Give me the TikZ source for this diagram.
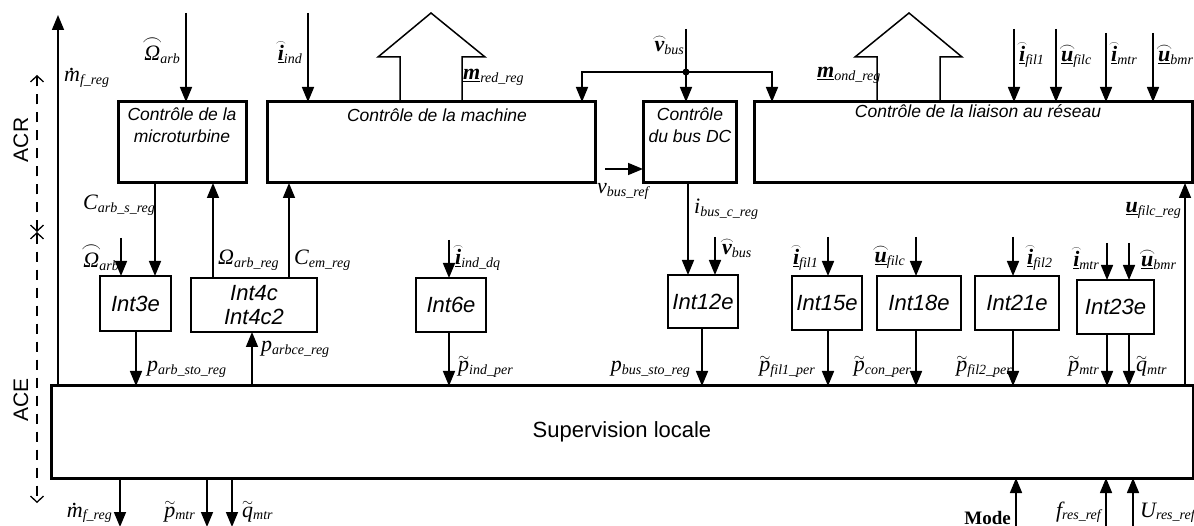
\documentclass[tikz,border=0pt]{standalone}
\usepackage{fontspec}
\setmainfont{Liberation Sans}
\newfontfamily\tnr{Liberation Serif}
\usetikzlibrary{arrows.meta,calc}
\newcommand\Lm[2]{{\tnr\itshape\fontsize{22}{24}\selectfont #1\raisebox{-0.12em}{\fontsize{14}{16}\selectfont #2}}}
\newcommand\arcc[1]{\leavevmode\setbox0\hbox{#1}\rlap{\hbox to\wd0{\hss\smash{\raisebox{\dimexpr\ht0+0.5pt\relax}{\resizebox{\dimexpr\wd0+4pt\relax}{!}{$\frown$}}}\hss}}\box0}
\newcommand\tld[1]{\leavevmode\setbox0\hbox{#1}\rlap{\hbox to\wd0{\hss\smash{\raisebox{\dimexpr\ht0+0.5pt\relax}{\resizebox{\wd0}{!}{$\sim$}}}\hss}}\box0}
\newcommand\dotm{\leavevmode\setbox0\hbox{m}\rlap{\hbox to\wd0{\hss\smash{\raisebox{\dimexpr\ht0+1pt\relax}{.}}\hss}}\box0}
\newcommand\ubf[1]{\underline{\bfseries #1}}
\begin{document}
\begin{tikzpicture}[x=1pt,y=-1pt,
  arr/.style={line width=1.6pt,-{Triangle[length=15pt,width=12pt]}},
  ctrl/.style={draw,line width=3pt,inner sep=0pt,outer sep=0pt,anchor=north west},
  intb/.style={draw,line width=1.8pt,inner sep=0pt,outer sep=0pt,anchor=north west,font=\fontsize{22}{24}\selectfont\itshape},
  ctxt/.style={inner sep=0pt,align=center,font=\fontsize{17.5}{22}\selectfont\itshape},
  lab/.style={inner sep=0pt},
  hollow/.style={line width=1.5pt,line join=miter},
  zone/.style={line width=1.3pt,dash pattern=on 10pt off 8pt,{Straight Barb[length=6pt,width=13pt]}-{Straight Barb[length=6pt,width=13pt]}}
]
\useasboundingbox (0,0) rectangle (1194,526);

% boxes
\node[ctrl,minimum width=128pt,minimum height=81pt] (mt) at (118,102) {};
\node[ctrl,minimum width=328pt,minimum height=81pt] (mach) at (267,102) {};
\node[ctrl,minimum width=93pt,minimum height=81pt] (bus) at (643,102) {};
\node[ctrl,minimum width=438pt,minimum height=81pt] (lia) at (754,102) {};
\node[ctrl,minimum width=1142pt,minimum height=92pt] (sup) at (51,386) {};

\node[ctxt,anchor=north] (tmt) at (182,108) {Contrôle de la\\microturbine};
\node[ctxt,anchor=base] (tmach) at (437,122) {Contrôle de la machine};
\node[ctxt,anchor=north] (tbus) at (690,108) {Contrôle\\du bus DC};
\node[ctxt,anchor=base] (tlia) at (978,118) {Contrôle de la liaison au réseau};
\node[inner sep=0pt,font=\fontsize{22}{24}\selectfont] (tsup) at (622,432) {Supervision locale};

\node[intb,minimum width=71pt,minimum height=55pt] (i3) at (100,276) {Int3e};
\node[intb,minimum width=126pt,minimum height=54pt,align=center] (i4) at (191,278) {Int4c\\Int4c2};
\node[intb,minimum width=70pt,minimum height=54pt] (i6) at (416,278) {Int6e};
\node[intb,minimum width=70pt,minimum height=53pt] (i12) at (668,275) {Int12e};
\node[intb,minimum width=70pt,minimum height=54pt] (i15) at (792,276) {Int15e};
\node[intb,minimum width=84pt,minimum height=54pt] (i18) at (877,276) {Int18e};
\node[intb,minimum width=84pt,minimum height=54pt] (i21) at (975,276) {Int21e};
\node[intb,minimum width=77pt,minimum height=54pt] (i23) at (1077,280) {Int23e};

% zone markers
\node[rotate=90,inner sep=0pt,font=\fontsize{21}{24}\selectfont] (acr) at (21,140) {ACR};
\node[rotate=90,inner sep=0pt,font=\fontsize{21}{24}\selectfont] (ace) at (21,400) {ACE};
\coordinate (z1) at (37,75);
\coordinate (z2) at (37,232);
\coordinate (z3) at (37,503);
\draw[zone] (z2) -- (z1);
\draw[zone] (z2) -- (z3);

% hollow arrows
\draw[hollow] (400,102) -- (400,57) -- (378,57) -- (431,13) -- (485,57) -- (462,57) -- (462,102);
\draw[hollow] (877,102) -- (877,57) -- (855,57) -- (909,13) -- (962,57) -- (940,57) -- (940,102);

% top inputs
\coordinate (pO) at (186,13);
\draw[arr] (pO) -- (pO |- mt.north);
\coordinate (pI) at (308,13);
\draw[arr] (pI) -- (pI |- mach.north);
\coordinate (pV) at (686,29);
\coordinate (vd) at (686,72);
\coordinate (vL) at (582,72);
\coordinate (vR) at (772,72);
\draw[line width=1.6pt] (pV) -- (vd);
\draw[arr] (vd) -- (vd |- bus.north);
\draw[arr] (vd) -- (vL) -- (vL |- mach.north);
\draw[arr] (vd) -- (vR) -- (vR |- lia.north);
\fill (vd) circle (3.5pt);
\coordinate (pf1) at (1014,29);
\draw[arr] (pf1) -- (pf1 |- lia.north);
\coordinate (pfc) at (1056,29);
\draw[arr] (pfc) -- (pfc |- lia.north);
\coordinate (pmt) at (1106,33);
\draw[arr] (pmt) -- (pmt |- lia.north);
\coordinate (pbm) at (1153,33);
\draw[arr] (pbm) -- (pbm |- lia.north);
\coordinate (mf) at (58,15);
\draw[arr] (sup.north -| mf) -- (mf);
\coordinate (vr) at (605,169);
\draw[arr] (vr) -- (vr -| bus.west);

% middle links
\coordinate (xC) at (155,0);
\draw[arr] (mt.south -| xC) -- (i3.north -| xC);
\coordinate (xO) at (213,0);
\draw[arr] (i4.north -| xO) -- (mt.south -| xO);
\coordinate (xE) at (289,0);
\draw[arr] (i4.north -| xE) -- (mach.south -| xE);
\coordinate (xB) at (688,0);
\draw[arr] (bus.south -| xB) -- (i12.north -| xB);
\coordinate (xU) at (1185,0);
\draw[arr] (sup.north -| xU) -- (lia.south -| xU);

% int inputs
\coordinate (q3) at (121,238);
\draw[arr] (q3) -- (q3 |- i3.north);
\coordinate (q6) at (449,240);
\draw[arr] (q6) -- (q6 |- i6.north);
\coordinate (q12) at (715,237);
\draw[arr] (q12) -- (q12 |- i12.north);
\coordinate (q15) at (828,237);
\draw[arr] (q15) -- (q15 |- i15.north);
\coordinate (q18) at (916,237);
\draw[arr] (q18) -- (q18 |- i18.north);
\coordinate (q21) at (1013,237);
\draw[arr] (q21) -- (q21 |- i21.north);
\coordinate (q23a) at (1107,243);
\draw[arr] (q23a) -- (q23a |- i23.north);
\coordinate (q23b) at (1129,243);
\draw[arr] (q23b) -- (q23b |- i23.north);

% int outputs
\coordinate (o3) at (136,0);
\draw[arr] (i3.south -| o3) -- (sup.north -| o3);
\coordinate (o4) at (252,0);
\draw[arr] (sup.north -| o4) -- (i4.south -| o4);
\coordinate (o6) at (449,0);
\draw[arr] (i6.south -| o6) -- (sup.north -| o6);
\coordinate (o12) at (702,0);
\draw[arr] (i12.south -| o12) -- (sup.north -| o12);
\coordinate (o15) at (828,0);
\draw[arr] (i15.south -| o15) -- (sup.north -| o15);
\coordinate (o18) at (916,0);
\draw[arr] (i18.south -| o18) -- (sup.north -| o18);
\coordinate (o21) at (1013,0);
\draw[arr] (i21.south -| o21) -- (sup.north -| o21);
\coordinate (o23a) at (1107,0);
\draw[arr] (i23.south -| o23a) -- (sup.north -| o23a);
\coordinate (o23b) at (1129,0);
\draw[arr] (i23.south -| o23b) -- (sup.north -| o23b);

% bottom
\coordinate (b1) at (120,527);
\draw[arr] (sup.south -| b1) -- (b1);
\coordinate (b2) at (207,527);
\draw[arr] (sup.south -| b2) -- (b2);
\coordinate (b3) at (232,527);
\draw[arr] (sup.south -| b3) -- (b3);
\coordinate (b4) at (1016,527);
\draw[arr] (b4) -- (b4 |- sup.south);
\coordinate (b5) at (1106,527);
\draw[arr] (b5) -- (b5 |- sup.south);
\coordinate (b6) at (1133,527);
\draw[arr] (b6) -- (b6 |- sup.south);

% labels top
\node[lab,anchor=base west] (l1) at (64,82) {\Lm{\dotm}{f\_reg}};
\node[lab,anchor=base east] (l2) at (180,61) {\Lm{\arcc{Ω}}{arb}};
\node[lab,anchor=base east] (l3) at (302,61) {\Lm{\arcc{\ubf{i}}}{ind}};
\node[lab,anchor=base west] (l4) at (463,80) {\Lm{\ubf{m}}{red\_reg}};
\node[lab,anchor=base east] (l5) at (684,52) {\Lm{\arcc{\bfseries v}}{bus}};
\node[lab,anchor=base west] (l6) at (817,78) {\Lm{\ubf{m}}{ond\_reg}};
\node[lab,anchor=base west] (l7) at (1019,62) {\Lm{\arcc{\ubf{i}}}{fil1}};
\node[lab,anchor=base west] (l8) at (1061,62) {\Lm{\arcc{\ubf{u}}}{filc}};
\node[lab,anchor=base west] (l9) at (1111,62) {\Lm{\arcc{\ubf{i}}}{mtr}};
\node[lab,anchor=base west] (l10) at (1158,62) {\Lm{\arcc{\ubf{u}}}{bmr}};
% labels middle
\node[lab,anchor=base west] (l11) at (83,210) {\Lm{C}{arb\_s\_reg}};
\node[lab,anchor=base west] (l12) at (597,194) {\Lm{v}{bus\_ref}};
\node[lab,anchor=base west] (l13) at (694,214) {\Lm{i}{bus\_c\_reg}};
\node[lab,anchor=base east] (l14) at (1181,213) {\Lm{\ubf{u}}{filc\_reg}};
\node[lab,anchor=base east] (l15) at (119,268) {\Lm{\arcc{Ω}}{arb}};
\node[lab,anchor=base west] (l16) at (218,265) {\Lm{Ω}{arb\_reg}};
\node[lab,anchor=base west] (l17) at (294,265) {\Lm{C}{em\_reg}};
\node[lab,anchor=base west] (l18) at (455,265) {\Lm{\arcc{\ubf{i}}}{ind\_dq}};
\node[lab,anchor=base west] (l19) at (722,255) {\Lm{\arcc{\bfseries v}}{bus}};
\node[lab,anchor=base east] (l20) at (818,265) {\Lm{\arcc{\ubf{i}}}{fil1}};
\node[lab,anchor=base east] (l21) at (905,263) {\Lm{\arcc{\ubf{u}}}{filc}};
\node[lab,anchor=base west] (l22) at (1027,265) {\Lm{\arcc{\ubf{i}}}{fil2}};
\node[lab,anchor=base east] (l23) at (1099,267) {\Lm{\arcc{\ubf{i}}}{mtr}};
\node[lab,anchor=base west] (l24) at (1141,267) {\Lm{\arcc{\ubf{u}}}{bmr}};
% labels lower
\node[lab,anchor=base west] (l25) at (147,372) {\Lm{p}{arb\_sto\_reg}};
\node[lab,anchor=base west] (l26) at (261,352) {\Lm{p}{arbce\_reg}};
\node[lab,anchor=base west] (l27) at (458,372) {\Lm{\tld{p}}{ind\_per}};
\node[lab,anchor=base east] (l28) at (690,372) {\Lm{p}{bus\_sto\_reg}};
\node[lab,anchor=base east] (l29) at (815,372) {\Lm{\tld{p}}{fil1\_per}};
\node[lab,anchor=base east] (l30) at (911,372) {\Lm{\tld{p}}{con\_per}};
\node[lab,anchor=base east] (l31) at (1012,372) {\Lm{\tld{p}}{fil2\_per}};
\node[lab,anchor=base east] (l32) at (1099,372) {\Lm{\tld{p}}{mtr}};
\node[lab,anchor=base west] (l33) at (1136,372) {\Lm{\tld{q}}{mtr}};
% labels bottom
\node[lab,anchor=base east] (l34) at (112,517) {\Lm{\dotm}{f\_reg}};
\node[lab,anchor=base east] (l35) at (195,517) {\Lm{\tld{p}}{mtr}};
\node[lab,anchor=base west] (l36) at (242,517) {\Lm{\tld{q}}{mtr}};
\node[lab,anchor=base east,font=\tnr\bfseries\fontsize{19}{22}\selectfont] (l37) at (1011,524) {Mode};
\node[lab,anchor=base east] (l38) at (1101,517) {\Lm{f}{res\_ref}};
\node[lab,anchor=base west] (l39) at (1140,517) {\Lm{U}{res\_ref}};
\end{tikzpicture}
\end{document}
